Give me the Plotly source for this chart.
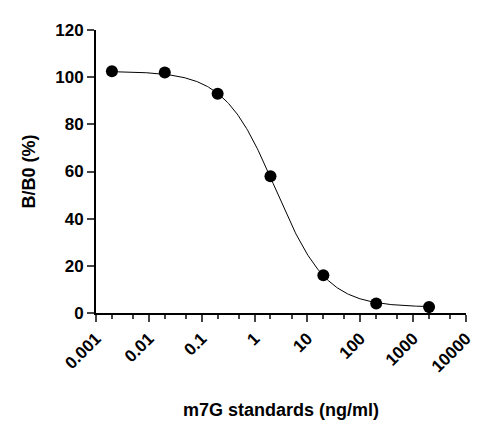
import numpy as np
import plotly.graph_objects as go

# Standards (ng/ml) and measured B/B0 (%)
conc = [0.002, 0.02, 0.2, 2, 20, 200, 2000]
bb0 = [102.5, 102, 93, 58, 16, 4, 2.5]

# 4PL fit parameters (estimated)
top, bottom, ic50, hill = 102.5, 2.5, 2.5, 0.9
xfit = np.logspace(np.log10(0.002), np.log10(2000), 300)
yfit = bottom + (top - bottom) / (1 + (xfit / ic50) ** hill)

tick_vals = [0.001, 0.01, 0.1, 1, 10, 100, 1000, 10000]
tick_text = ['0.001', '0.01', '0.1', '1', '10', '100', '1000', '10000']

fig = go.Figure()
fig.add_trace(go.Scatter(x=xfit, y=yfit, mode='lines',
                         line=dict(color='black', width=1), showlegend=False))
fig.add_trace(go.Scatter(x=conc, y=bb0, mode='markers',
                         marker=dict(color='black', size=12), showlegend=False))

fig.update_layout(
    width=491, height=442,
    margin=dict(l=88, r=33, t=22, b=137),
    plot_bgcolor='white', paper_bgcolor='white',
    font=dict(family='Liberation Sans, Arial, sans-serif', size=17, color='black'),
)
fig.update_xaxes(
    type='log', range=[-3, 4],
    tickvals=tick_vals, ticktext=tick_text, tickangle=-45,
    ticks='outside', ticklen=7, tickwidth=2,
    minor=dict(ticks='outside', ticklen=4, tickwidth=1.5, showgrid=False),
    showline=True, linecolor='black', linewidth=2, showgrid=False, zeroline=False,
    tickfont=dict(size=17, weight='bold'),
    title=dict(text='<b>m7G standards (ng/ml)</b>', font=dict(size=18), standoff=28),
)
fig.update_yaxes(
    range=[0, 120], tickvals=[0, 20, 40, 60, 80, 100, 120],
    ticks='outside', ticklen=7, tickwidth=2,
    showline=True, linecolor='black', linewidth=2, showgrid=False, zeroline=False,
    tickfont=dict(size=17, weight='bold'),
    title=dict(text='<b>B/B0 (%)</b>', font=dict(size=18)),
)

fig.write_html("out.html")
